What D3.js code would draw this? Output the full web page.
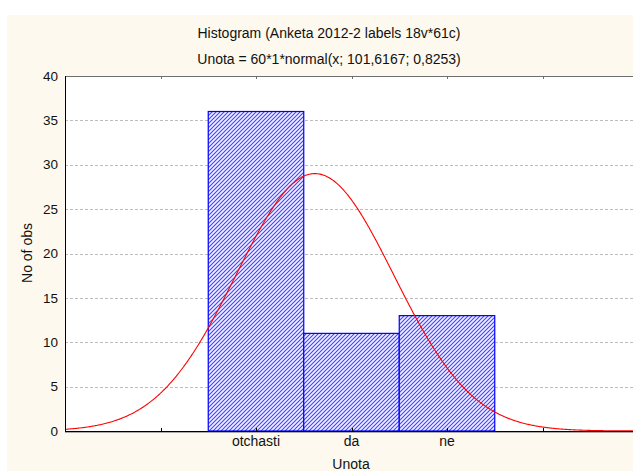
<!DOCTYPE html>
<html><head><meta charset="utf-8">
<script src="https://cdn.jsdelivr.net/npm/d3@7"></script>
<style>body{margin:0;background:#fff}svg{display:block}</style>
</head><body>
<script>
const categories = ["otchasti", "da", "ne"];
const codes = [101, 102, 103];
const counts = [36, 11, 13];
const yTicks = [0, 5, 10, 15, 20, 25, 30, 35, 40];
const xTicks = [99, 100, 101, 102, 103, 104, 105];
const nObs = 60, mean = 101.6167, sd = 0.8253;
const title = "Histogram (Anketa 2012-2 labels 18v*61c)";
const subtitle = "Unota = 60*1*normal(x; 101,6167; 0,8253)";

const W = 633, H = 471;
const L = 65, R = 638, T = 76, B = 431;
const svg = d3.select("body").append("svg").attr("width", W).attr("height", H);

svg.append("rect").attr("width", W).attr("height", H).attr("fill", "#fff");
svg.append("rect").attr("x", 7).attr("y", 15).attr("width", W).attr("height", H).attr("fill", "#fdf9ee");

const defs = svg.append("defs");
const pat = defs.append("pattern").attr("id", "hatch").attr("patternUnits", "userSpaceOnUse")
  .attr("width", 4).attr("height", 4);
pat.append("rect").attr("width", 4).attr("height", 4).attr("fill", "#fff");
const hp = "M-1,5 L5,-1 M-1,1 L1,-1 M3,5 L5,3";
pat.append("path").attr("d", hp).attr("stroke", "#b4b4ff").attr("stroke-width", 2.0);
pat.append("path").attr("d", hp).attr("stroke", "#3030ff").attr("stroke-width", 0.8);
defs.append("clipPath").attr("id", "pc").append("rect").attr("x", L).attr("y", T).attr("width", R - L).attr("height", B - T);

const x = d3.scaleLinear().domain([99, 105]).range([L, R]);
const y = d3.scaleLinear().domain([0, 40]).range([B, T]);

svg.append("rect").attr("x", L).attr("y", T).attr("width", R - L).attr("height", B - T).attr("fill", "#fff");

// gridlines
svg.append("g").selectAll("line").data(yTicks.filter(v => v > 0 && v < 40)).join("line")
  .attr("x1", L).attr("x2", R).attr("y1", d => Math.round(y(d)) + 0.5).attr("y2", d => Math.round(y(d)) + 0.5)
  .attr("stroke", "#bdbdbd").attr("stroke-dasharray", "3,2");

// bars
svg.append("g").selectAll("rect").data(codes).join("rect")
  .attr("x", (d) => x(d - 0.5)).attr("width", (d) => x(d + 0.5) - x(d - 0.5))
  .attr("y", (d, i) => y(counts[i])).attr("height", (d, i) => y(0) - y(counts[i]))
  .attr("fill", "url(#hatch)").attr("stroke", "#0000ff").attr("stroke-width", 1.2);

// normal curve
const pts = d3.range(0, 601).map(i => 99 + i * 6 / 600);
const pdf = v => nObs * 1 * Math.exp(-0.5 * ((v - mean) / sd) ** 2) / (sd * Math.sqrt(2 * Math.PI));
svg.append("path").datum(pts).attr("clip-path", "url(#pc)")
  .attr("d", d3.line().x(v => x(v)).y(v => y(pdf(v))).curve(d3.curveLinear))
  .attr("fill", "none").attr("stroke", "#ff0000").attr("stroke-width", 1.1);

// frame
svg.append("line").attr("x1", L).attr("x2", R).attr("y1", T + 0.5).attr("y2", T + 0.5).attr("stroke", "#6e6e6e");
svg.append("line").attr("x1", L + 0.5).attr("x2", L + 0.5).attr("y1", T).attr("y2", B + 1).attr("stroke", "#000");
svg.append("line").attr("x1", L).attr("x2", R).attr("y1", B + 0.5).attr("y2", B + 0.5).attr("stroke", "#000");
svg.append("line").attr("x1", L).attr("x2", R).attr("y1", B + 1.5).attr("y2", B + 1.5).attr("stroke", "#aaa");

// x ticks (inward, top and bottom)
const xt = svg.append("g");
xt.selectAll("line.b").data(xTicks.slice(1)).join("line").attr("class", "b")
  .attr("x1", d => Math.round(x(d)) + 0.5).attr("x2", d => Math.round(x(d)) + 0.5)
  .attr("y1", B - 3).attr("y2", B).attr("stroke", "#000");
xt.selectAll("line.t").data(xTicks.slice(1)).join("line").attr("class", "t")
  .attr("x1", d => Math.round(x(d)) + 0.5).attr("x2", d => Math.round(x(d)) + 0.5)
  .attr("y1", T).attr("y2", T + 3).attr("stroke", "#6e6e6e");

const font = "'Liberation Sans', Arial, sans-serif";
const fs = 14;
// y tick labels
svg.append("g").selectAll("text").data(yTicks).join("text")
  .attr("x", 58).attr("y", d => y(d)).attr("dy", "0.35em").attr("text-anchor", "end")
  .attr("font-family", font).attr("font-size", 13.5).attr("fill", "#111").text(d => d);

// x category labels
svg.append("g").selectAll("text").data(codes).join("text")
  .attr("x", d => x(d)).attr("y", 446).attr("text-anchor", "middle")
  .attr("font-family", font).attr("font-size", fs).attr("fill", "#111").text((d, i) => categories[i]);

svg.append("text").attr("x", 351).attr("y", 469).attr("text-anchor", "middle")
  .attr("font-family", font).attr("font-size", fs).attr("fill", "#111").text("Unota");
svg.append("text").attr("transform", "translate(32,253) rotate(-90)").attr("text-anchor", "middle")
  .attr("font-family", font).attr("font-size", fs).attr("fill", "#111").text("No of obs");

svg.append("text").attr("x", 329).attr("y", 38).attr("text-anchor", "middle")
  .attr("font-family", font).attr("font-size", fs).attr("fill", "#111").text(title);
svg.append("text").attr("x", 329).attr("y", 64).attr("text-anchor", "middle")
  .attr("font-family", font).attr("font-size", fs).attr("fill", "#111").text(subtitle);
</script>
</body></html>
